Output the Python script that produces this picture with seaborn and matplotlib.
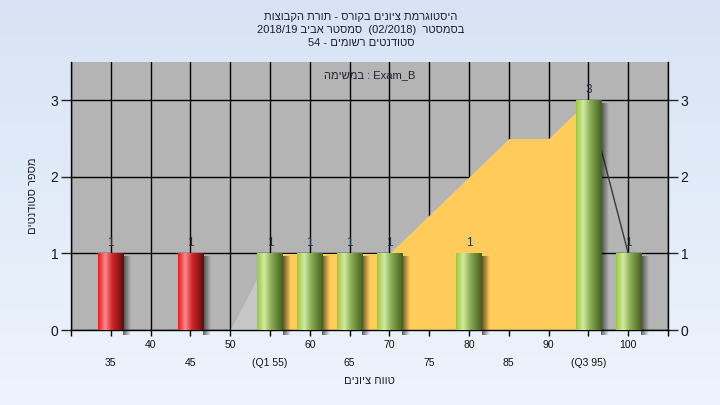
import re
import numpy as np
import matplotlib
matplotlib.use('Agg')
import matplotlib.pyplot as plt
import seaborn as sns
import pandas as pd
from matplotlib.colors import LinearSegmentedColormap

# bar data
grades = [35, 45, 55, 60, 65, 70, 80, 95, 100]
counts = [1, 1, 1, 1, 1, 1, 1, 3, 1]
status = ['fail', 'fail', 'pass', 'pass', 'pass', 'pass', 'pass', 'pass', 'pass']

# trend area behind the bars
trend_x = [50, 55, 60, 65, 70, 75, 80, 85, 90, 95, 100]
trend_y = [0, 1, 1, 1, 1, 1.5, 2, 2.5, 2.5, 3, 1]

# x tick labels, two rows
upper_ticks = [40, 50, 60, 70, 80, 90, 100]
upper_labels = ['40', '50', '60', '70', '80', '90', '100']
lower_ticks = [35, 45, 55, 65, 75, 85, 95]
lower_labels = ['35', '45', '(Q1 55)', '65', '75', '85', '(Q3 95)']

title_lines = ['היסטוגרמת ציונים בקורס - תורת הקבוצות',
               'בסמסטר  (02/2018)  סמסטר אביב 2018/19',
               'סטודנטים רשומים - 54']
task_label = 'במשימה : Exam_B'
xlabel = 'טווח ציונים'
ylabel = 'מספר סטודנטים'


def rtl(s):
    # right-to-left line -> visual order for matplotlib
    s = s[::-1]
    s = re.sub(r'[0-9A-Za-z_]+(?:[/.:][0-9A-Za-z_]+)*', lambda m: m.group()[::-1], s)
    return s.translate(str.maketrans('()', ')('))


def heb(s):
    # only flip the hebrew runs
    return re.sub(r'[\u0590-\u05FF]+(?: [\u0590-\u05FF]+)*', lambda m: m.group()[::-1], s)


sns.set_theme(style='white')
plt.rcParams['font.family'] = ['Liberation Sans', 'DejaVu Sans']

fig = plt.figure(figsize=(7.2, 4.05), dpi=100)

# light blue background
bg = fig.add_axes([0, 0, 1, 1], zorder=-10)
grad = np.linspace(0, 1, 256).reshape(-1, 1)
bg.imshow(grad, aspect='auto', extent=[0, 1, 0, 1], origin='lower',
          cmap=LinearSegmentedColormap.from_list('bg', ['#eef4fd', '#d7e3f4']))
bg.axis('off')

ax = fig.add_axes([71 / 720, 75 / 405, 597 / 720, 268 / 405])
ax.set_facecolor('#b4b4b4')

df = pd.DataFrame({'grade': grades, 'count': counts, 'status': status})
sns.barplot(data=df, x='grade', y='count', hue='status', native_scale=True,
            palette={'fail': '#e03030', 'pass': '#98c050'}, width=0.63,
            legend=False, ax=ax, zorder=3)

# trend area
tx = np.array(trend_x, dtype=float)
ty = np.array(trend_y, dtype=float)
ax.fill_between(tx[:2], 0, ty[:2], color='#c6c6c6', lw=0, zorder=1)
ax.fill_between(tx[1:-1], 0, ty[1:-1], color='#ffcc5c', lw=0, zorder=1)
ax.plot(tx[-2:], ty[-2:], color='#3a3a3a', lw=1, zorder=1.5)

# cylinder shading + shadow
cmaps = {
    'fail': LinearSegmentedColormap.from_list('r', [(0, '#e01c1c'), (0.28, '#ff8a8a'),
                                                   (0.55, '#d02828'), (1, '#5e0e0e')]),
    'pass': LinearSegmentedColormap.from_list('g', [(0, '#98c83c'), (0.28, '#d2eaa0'),
                                                   (0.55, '#8aae54'), (1, '#44601e')]),
}
shadow = np.zeros((1, 64, 4))
shadow[..., 3] = np.linspace(0.6, 0, 64)
hgrad = np.linspace(0, 1, 128).reshape(1, -1)
for p, st in zip(sorted(ax.patches, key=lambda r: r.get_x()), status):
    x0, w, h = p.get_x(), p.get_width(), p.get_height()
    ax.imshow(shadow, extent=[x0 + w, x0 + w + 0.9, -0.07, h - 0.05], aspect='auto',
              zorder=2, clip_on=False)
    im = ax.imshow(hgrad, extent=[x0, x0 + w, 0, h], aspect='auto', cmap=cmaps[st], zorder=3.5)
    im.set_clip_path(p)
    p.set_edgecolor('none')

for c in ax.containers:
    ax.bar_label(c, fmt='%d', padding=3, fontsize=8.5, color='#1c3550')

ax.set_xlim(30, 105)
ax.set_ylim(0, 3.5)
ax.set_xlabel('')
ax.set_ylabel('')

ax.set_xticks([30] + upper_ticks, [''] + upper_labels)
ax.set_xticks(lower_ticks + [105], lower_labels + [''], minor=True)
ax.set_yticks([0, 1, 2, 3])
ax.tick_params(axis='x', which='both', direction='out', length=4, width=1, colors='black',
               labelsize=7.5, labelcolor='#111111', bottom=True)
ax.tick_params(axis='x', which='major', pad=3)
ax.tick_params(axis='x', which='minor', pad=16)
ax.tick_params(axis='y', direction='out', length=7, width=1, labelsize=10,
               labelcolor='#101828', left=True, right=True, labelright=True, pad=2)

ax.set_axisbelow(True)
ax.grid(True, axis='x', which='both', color='black', lw=1)
ax.grid(True, axis='y', which='major', color='black', lw=1)
for side in ['left', 'right', 'bottom']:
    ax.spines[side].set_color('black')
    ax.spines[side].set_linewidth(1)
ax.spines['top'].set_visible(False)

ax.text(0.5, 0.95, heb(task_label), transform=ax.transAxes, ha='center', va='center',
        fontsize=8, color='#202030')

for i, line in enumerate(title_lines):
    fig.text(361 / 720, 1 - (17 + 13 * i) / 405, rtl(line), ha='center', va='center',
             fontsize=8, color='#1e1e2e')
fig.text(369 / 720, 1 - 381 / 405, rtl(xlabel), ha='center', va='center', fontsize=8,
         color='#1e1e2e')
fig.text(33 / 720, 1 - 196 / 405, rtl(ylabel), ha='center', va='center', rotation=90,
         fontsize=8, color='#1e1e2e')

fig.savefig('out.png', dpi=100)
